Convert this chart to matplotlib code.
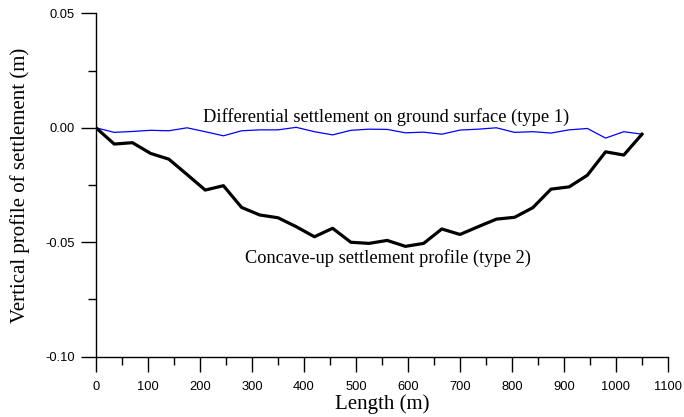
import matplotlib
matplotlib.use("Agg")
import matplotlib.pyplot as plt
from matplotlib.ticker import MultipleLocator, FormatStrFormatter

# station positions along the line (m)
length = [0, 35, 70, 105, 140, 175, 210, 245, 280, 315, 350, 385, 420, 455, 490, 525,
          560, 595, 630, 665, 700, 735, 770, 805, 840, 875, 910, 945, 980, 1015, 1050]

# type 1: differential settlement on ground surface (m)
type1 = [0.0, -0.0020, -0.0016, -0.0011, -0.0013, 0.0000, -0.0017, -0.0035, -0.0013, -0.0009,
         -0.0009, 0.0002, -0.0017, -0.0031, -0.0011, -0.0006, -0.0007, -0.0022, -0.0019, -0.0028,
         -0.0010, -0.0006, 0.0000, -0.0020, -0.0017, -0.0023, -0.0009, -0.0003, -0.0045, -0.0017,
         -0.0028]

# type 2: concave-up settlement profile (m)
type2 = [0.0, -0.0071, -0.0065, -0.0112, -0.0137, -0.0204, -0.0272, -0.0253, -0.0348, -0.0381,
         -0.0393, -0.0432, -0.0476, -0.0439, -0.0500, -0.0505, -0.0492, -0.0518, -0.0505, -0.0442,
         -0.0466, -0.0432, -0.0399, -0.0391, -0.0349, -0.0268, -0.0258, -0.0207, -0.0105, -0.0119,
         -0.0028]

serif = ["Liberation Serif", "DejaVu Serif"]
sans = ["Liberation Sans", "DejaVu Sans"]

fig = plt.figure(figsize=(6.84, 4.17), dpi=100)
ax = fig.add_axes([0.1404, 0.1446, 0.8362, 0.8234])

ax.plot(length, type1, color="#0000ff", linewidth=0.9)
ax.plot(length, type2, color="black", linewidth=2.3)

ax.set_xlim(0, 1100)
ax.set_ylim(-0.10, 0.05)
ax.xaxis.set_major_locator(MultipleLocator(100))
ax.xaxis.set_minor_locator(MultipleLocator(50))
ax.yaxis.set_major_locator(MultipleLocator(0.05))
ax.yaxis.set_minor_locator(MultipleLocator(0.025))
ax.yaxis.set_major_formatter(FormatStrFormatter("%.2f"))

for s in ["top", "right"]:
    ax.spines[s].set_visible(False)
for s in ["left", "bottom"]:
    ax.spines[s].set_linewidth(1.0)

ax.tick_params(which="major", length=10.5, width=1.0, direction="out")
ax.tick_params(which="minor", length=6, width=1.0, direction="out")
ax.tick_params(axis="x", which="major", pad=7)
ax.tick_params(axis="y", which="major", pad=5)
for lab in ax.get_xticklabels() + ax.get_yticklabels():
    lab.set_fontfamily(sans)
    lab.set_fontsize(9.3)

ax.set_xlabel("Length (m)", fontsize=15, family=serif)
ax.set_ylabel("Vertical profile of settlement (m)", fontsize=15, family=serif)
ax.xaxis.set_label_coords(0.5, -0.108)
ax.yaxis.set_label_coords(-0.115, 0.5)

ax.text(206, 0.0026, "Differential settlement on ground surface (type 1)",
        fontsize=13.2, family=serif, va="baseline")
ax.text(287, -0.0591, "Concave-up settlement profile (type 2)",
        fontsize=13.2, family=serif, va="baseline")

fig.savefig("out.png", dpi=100)
